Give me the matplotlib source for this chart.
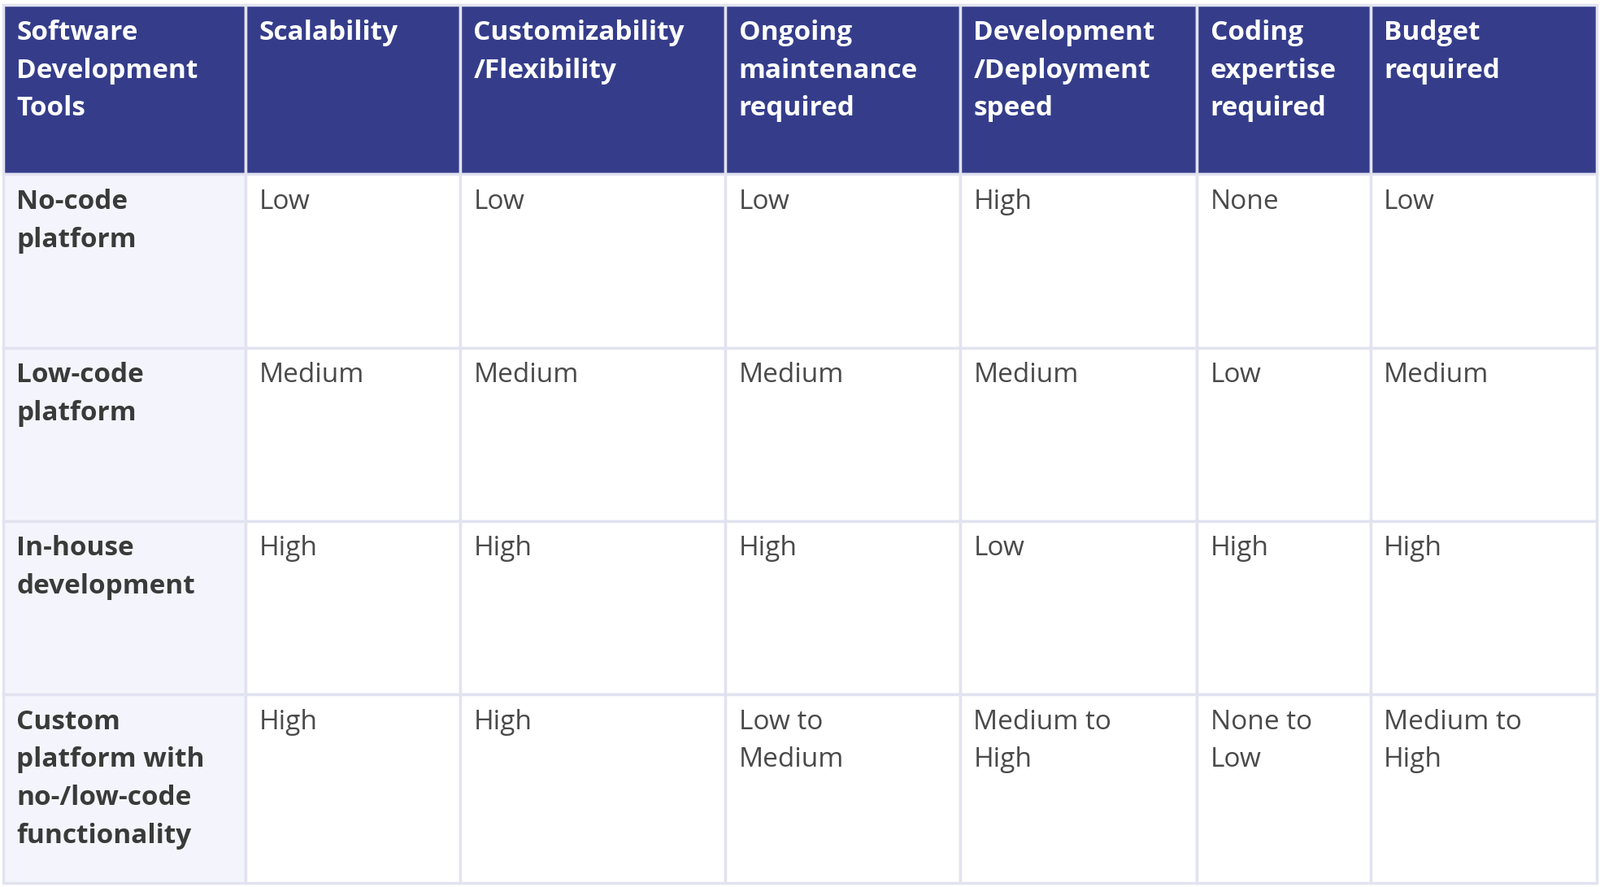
import matplotlib.pyplot as plt
from matplotlib.patches import Rectangle

headers = ["Software\nDevelopment\nTools", "Scalability", "Customizability\n/Flexibility",
           "Ongoing\nmaintenance\nrequired", "Development\n/Deployment\nspeed",
           "Coding\nexpertise\nrequired", "Budget\nrequired"]
tools = ["No-code\nplatform", "Low-code\nplatform", "In-house\ndevelopment",
         "Custom\nplatform with\nno-/low-code\nfunctionality"]
cells = [
    ["Low", "Low", "Low", "High", "None", "Low"],
    ["Medium", "Medium", "Medium", "Medium", "Low", "Medium"],
    ["High", "High", "High", "Low", "High", "High"],
    ["High", "High", "Low to\nMedium", "Medium to\nHigh", "None to\nLow", "Medium to\nHigh"],
]

# layout in reference pixel space (1568 x 870)
col_x = [3, 241, 451, 711, 941, 1173, 1343, 1565]
row_y = [5, 171, 341, 511, 681, 866]

fig = plt.figure(figsize=(19.68, 10.91), dpi=100)
ax = fig.add_axes([0, 0, 1, 1])
ax.set_xlim(0, 1568)
ax.set_ylim(870, 0)
ax.axis("off")

header_bg = "#353d8b"
first_bg = "#f4f5fc"
grid = "#e2e3f0"
font = "Open Sans"

for r in range(len(row_y) - 1):
    for c in range(len(col_x) - 1):
        x0, x1 = col_x[c], col_x[c + 1]
        y0, y1 = row_y[r], row_y[r + 1]
        if r == 0:
            bg = header_bg
        elif c == 0:
            bg = first_bg
        else:
            bg = "white"
        ax.add_patch(Rectangle((x0, y0), x1 - x0, y1 - y0, facecolor=bg,
                               edgecolor=grid, linewidth=2.5))
        if r == 0:
            txt, col, wt = headers[c], "white", "bold"
        elif c == 0:
            txt, col, wt = tools[r - 1], "#3a3a3a", "bold"
        else:
            txt, col, wt = cells[r - 1][c - 1], "#4a4a4a", "normal"
        ax.text(x0 + 13, y0 + 14, txt, ha="left", va="top", color=col,
                fontsize=24, fontweight=wt, family=font, linespacing=1.55)

fig.savefig("out.png", dpi=100, facecolor="white")
